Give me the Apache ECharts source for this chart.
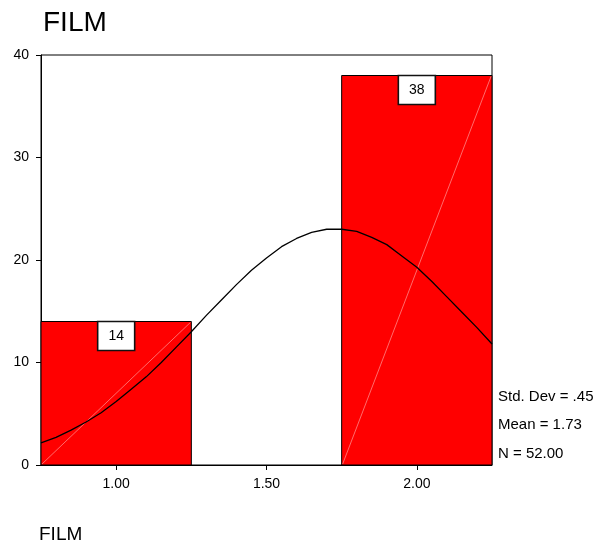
<!DOCTYPE html>
<html>
<head>
<meta charset="utf-8">
<script src="https://cdn.jsdelivr.net/npm/echarts@6/dist/echarts.min.js"></script>
<style>
html,body{margin:0;padding:0;background:#fff;}
#chart{width:604px;height:547px;}
</style>
</head>
<body>
<div id="chart"></div>
<script>
// ---- data ----
const titleText = 'FILM';
const xAxisTitle = 'FILM';
const binCenters = [1.00, 1.50, 2.00];
const binCounts = [14, 0, 38];
const binWidth = 0.5;
const xTickValues = [1.00, 1.50, 2.00];
const curveX = [0.75,0.80,0.85,0.90,0.95,1.00,1.05,1.10,1.15,1.20,1.25,1.30,1.35,1.40,1.45,1.50,1.55,1.60,1.65,1.70,1.75,1.80,1.85,1.90,1.95,2.00,2.05,2.10,2.15,2.20,2.25];
const curveY = [2.15,2.7,3.4,4.2,5.1,6.2,7.4,8.6,10.0,11.5,13.0,14.6,16.1,17.6,19.0,20.2,21.3,22.1,22.7,23.0,23.0,22.8,22.2,21.5,20.4,19.3,17.9,16.4,14.9,13.4,11.8];
const statsLines = ['Std. Dev = .45', 'Mean = 1.73', 'N = 52.00'];

const FONT = 'Liberation Sans, Arial, sans-serif';
const chart = echarts.init(document.getElementById('chart'), null, {renderer: 'canvas'});

const barData = binCenters.map((c, i) => [c, binCounts[i]]);
const curveData = curveX.map((x, i) => [x, curveY[i]]);

const option = {
  animation: false,
  backgroundColor: '#fff',
  title: {
    text: titleText,
    left: 38, top: 4,
    textStyle: {fontFamily: FONT, fontSize: 28, fontWeight: 'normal', color: '#000'}
  },
  grid: {
    left: 41, right: 112, top: 55, bottom: 82,
    show: true, borderColor: '#000', borderWidth: 1, backgroundColor: 'transparent'
  },
  xAxis: {
    type: 'value', min: 0.75, max: 2.25,
    axisLine: {show: true, onZero: false, lineStyle: {color: '#000', width: 1}},
    axisTick: {show: true, customValues: xTickValues, length: 5, lineStyle: {color: '#000'}},
    axisLabel: {show: true, customValues: xTickValues, margin: 12,
      formatter: v => v.toFixed(2), fontFamily: FONT, fontSize: 14, color: '#000'},
    splitLine: {show: false}
  },
  yAxis: {
    type: 'value', min: 0, max: 40, interval: 10,
    axisLine: {show: true, lineStyle: {color: '#000', width: 1}},
    axisTick: {show: true, length: 5, lineStyle: {color: '#000'}},
    axisLabel: {fontFamily: FONT, fontSize: 14, color: '#000', margin: 12},
    splitLine: {show: false}
  },
  graphic: [
    ...statsLines.map((t, i) => ({
      type: 'text', left: 498, top: 389 + i * 28.5,
      style: {text: t, fontFamily: FONT, fontSize: 15, fill: '#000'}
    })),
    {type: 'text', left: 39, top: 525,
     style: {text: xAxisTitle, fontFamily: FONT, fontSize: 19, fill: '#000'}}
  ],
  series: [
    {
      type: 'custom',
      clip: false,
      z: 2,
      data: barData,
      encode: {x: 0, y: 1},
      renderItem: function (params, api) {
        const c = api.value(0), n = api.value(1);
        if (!n) return {type: 'group', children: []};
        const p0 = api.coord([c - binWidth / 2, 0]);
        const p1 = api.coord([c + binWidth / 2, n]);
        const cx = (p0[0] + p1[0]) / 2;
        const bw = 37, bh = 29;
        return {
          type: 'group',
          children: [
            {type: 'rect', shape: {x: p0[0], y: p1[1], width: p1[0] - p0[0], height: p0[1] - p1[1]},
             style: {fill: '#ff0000', stroke: '#000', lineWidth: 1}},
            {type: 'rect', shape: {x: cx - bw / 2, y: p1[1], width: bw, height: bh},
             style: {fill: '#fff', stroke: '#111', lineWidth: 1.6}},
            {type: 'line', shape: {x1: p0[0] + 1, y1: p0[1] - 1, x2: p1[0] - 1, y2: p1[1] + 1},
             style: {stroke: '#ff9a9a', lineWidth: 0.7}},
            {type: 'text', x: cx, y: p1[1] + bh / 2,
             style: {text: String(n), fontFamily: FONT, fontSize: 14, fill: '#000', align: 'center', verticalAlign: 'middle'}}
          ]
        };
      }
    },
    {
      type: 'line',
      z: 5,
      data: curveData,
      showSymbol: false,
      smooth: false,
      lineStyle: {color: '#000', width: 1.3}
    }
  ]
};
chart.setOption(option);
</script>
</body>
</html>
